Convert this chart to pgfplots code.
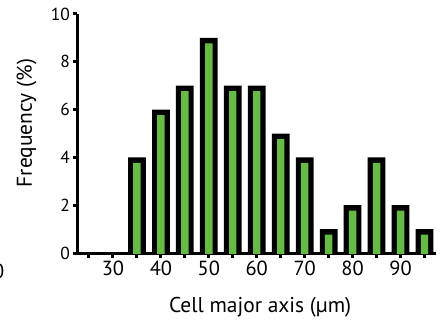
\documentclass[border=0pt]{standalone}
\usepackage{pgfplots}
\pgfplotsset{compat=1.18}
\usepackage{fontspec}
\setmainfont{PT Sans}
\definecolor{barg}{HTML}{66BB44}
\begin{document}
\begin{tikzpicture}[x=1bp,y=1bp]
\useasboundingbox (0,0) rectangle (448,322);
\begin{axis}[
  at={(77bp,69bp)}, anchor=south west, scale only axis,
  width=359bp, height=239bp,
  xmin=22.5, xmax=97.4, ymin=0, ymax=10,
  axis lines=left,
  axis line style={line width=3bp,-,black},
  tick align=outside,
  major tick length=4.5bp,
  every tick/.style={line width=3bp,black},
  xtick={25,30,...,95},
  xticklabels={,30,,40,,50,,60,,70,,80,,90,},
  ytick={0,2,...,10},
  /pgf/number format/assume math mode=true,
  xticklabel style={font=\fontsize{20.5}{22}\selectfont, inner sep=0.3em},
  yticklabel style={font=\fontsize{17.5}{19}\selectfont, inner sep=0.25em},
  label style={font=\fontsize{21.5}{24}\selectfont},
  xlabel={Cell major axis (µm)},
  ylabel={Frequency (\%)},
  xlabel style={at={(axis description cs:0.51,-0.247)}, anchor=base},
  ylabel style={at={(axis description cs:-0.126,0.544)}, anchor=base},
  clip=true,
]
\addplot[ybar, bar shift=0, bar width=3.7, fill=black, draw=none] coordinates {
(25,0) (30,0) (35,4) (40,6) (45,7) (50,9) (55,7) (60,7) (65,5) (70,4) (75,1) (80,2) (85,4) (90,2) (95,1)};
\addplot[ybar, bar shift=0, bar width=1.55, fill=barg, draw=none, yshift=-5.5bp] coordinates {
(25,0) (30,0) (35,4) (40,6) (45,7) (50,9) (55,7) (60,7) (65,5) (70,4) (75,1) (80,2) (85,4) (90,2) (95,1)};
\end{axis}
\node[anchor=base east, inner sep=0pt, font=\fontsize{20.5}{22}\selectfont] at (4.5,44) {0};
\end{tikzpicture}
\end{document}
